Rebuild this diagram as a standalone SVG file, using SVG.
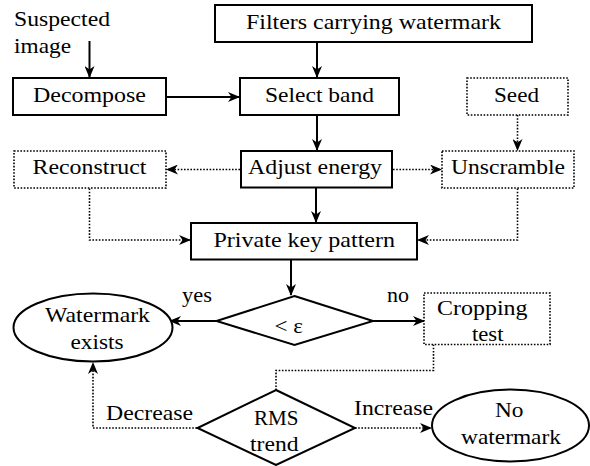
<svg xmlns="http://www.w3.org/2000/svg" width="590" height="466" viewBox="0 0 590 466">
<style>
text{font-family:"Liberation Serif","Times New Roman",serif;font-size:21px;fill:#000}
.s{fill:#fff;stroke:#000;stroke-width:2}
.d{fill:#fff;stroke:#000;stroke-width:1.6;stroke-dasharray:1.6 1.6}
.l{fill:none;stroke:#000;stroke-width:2}
.ld{fill:none;stroke:#000;stroke-width:1.6;stroke-dasharray:1.6 1.6}
</style>
<defs>
<marker id="a" viewBox="0 0 12 10" refX="11" refY="5" markerWidth="12" markerHeight="10" markerUnits="userSpaceOnUse" orient="auto">
<path d="M0,0 L12,5 L0,10 L3.5,5 z" fill="#000"/>
</marker>
</defs>
<g id="connectors">
<path class="l" d="M89.5,41 V77" marker-end="url(#a)"/>
<path class="l" d="M166,97 H239" marker-end="url(#a)"/>
<path class="l" d="M317,42 V77" marker-end="url(#a)"/>
<path class="l" d="M317,115 V150" marker-end="url(#a)"/>
<path class="ld" d="M517.5,115 V150" marker-end="url(#a)"/>
<path class="ld" d="M240,169.5 H167" marker-end="url(#a)"/>
<path class="ld" d="M393,169.5 H441" marker-end="url(#a)"/>
<path class="l" d="M316,188 V222" marker-end="url(#a)"/>
<path class="ld" d="M89.5,188.5 V240 H190" marker-end="url(#a)"/>
<path class="ld" d="M517.5,188.5 V240 H418" marker-end="url(#a)"/>
<path class="l" d="M291,259.5 V295" marker-end="url(#a)"/>
<path class="l" d="M216.5,321 H170" marker-end="url(#a)"/>
<path class="l" d="M373,321 H424" marker-end="url(#a)"/>
<path class="ld" d="M433.5,344.5 V370.5 H276 V390"/>
<path class="ld" d="M197,428 H93 V363" marker-end="url(#a)"/>
<path class="ld" d="M355,428 H431" marker-end="url(#a)"/>
</g>
<g id="suspected">
<text x="14" y="26" textLength="96" lengthAdjust="spacingAndGlyphs">Suspected</text>
<text x="14" y="53" textLength="57" lengthAdjust="spacingAndGlyphs">image</text>
</g>
<g id="decompose">
<rect class="s" x="13" y="78" width="153" height="37"/>
<text x="33" y="102" textLength="113" lengthAdjust="spacingAndGlyphs">Decompose</text>
</g>
<g id="filters">
<rect class="s" x="215" y="5" width="317" height="37"/>
<text x="246" y="28.5" textLength="255" lengthAdjust="spacingAndGlyphs">Filters carrying watermark</text>
</g>
<g id="select">
<rect class="s" x="240" y="78" width="159" height="37"/>
<text x="265" y="102" textLength="109" lengthAdjust="spacingAndGlyphs">Select band</text>
</g>
<g id="seed">
<rect class="d" x="467" y="78" width="101" height="37"/>
<text x="494" y="102" textLength="45" lengthAdjust="spacingAndGlyphs">Seed</text>
</g>
<g id="reconstruct">
<rect class="d" x="14" y="151" width="152" height="37"/>
<text x="32.5" y="174" textLength="114" lengthAdjust="spacingAndGlyphs">Reconstruct</text>
</g>
<g id="adjust">
<rect class="s" x="241" y="151" width="151" height="36.5"/>
<text x="248" y="174" textLength="134" lengthAdjust="spacingAndGlyphs">Adjust energy</text>
</g>
<g id="unscramble">
<rect class="d" x="442" y="151" width="132" height="37"/>
<text x="451" y="174" textLength="114" lengthAdjust="spacingAndGlyphs">Unscramble</text>
</g>
<g id="private">
<rect class="s" x="191" y="223" width="226" height="36.5"/>
<text x="213.5" y="247" textLength="181.5" lengthAdjust="spacingAndGlyphs">Private key pattern</text>
</g>
<g id="compare">
<polygon class="s" points="294.5,296 373,321 294.5,345 216.5,321"/>
<text x="274.5" y="333" textLength="28.5" lengthAdjust="spacingAndGlyphs">&lt; ε</text>
</g>
<g id="labels">
<text x="182" y="302" textLength="30" lengthAdjust="spacingAndGlyphs">yes</text>
<text x="387" y="302" textLength="22" lengthAdjust="spacingAndGlyphs">no</text>
<text x="106" y="419.5" textLength="87" lengthAdjust="spacingAndGlyphs">Decrease</text>
<text x="354" y="415" textLength="79" lengthAdjust="spacingAndGlyphs">Increase</text>
</g>
<g id="exists">
<ellipse class="s" cx="93" cy="327.5" rx="79.5" ry="34"/>
<text x="45" y="322" textLength="105" lengthAdjust="spacingAndGlyphs">Watermark</text>
<text x="70.5" y="348.5" textLength="53" lengthAdjust="spacingAndGlyphs">exists</text>
</g>
<g id="cropping">
<rect class="d" x="424" y="293" width="126" height="51.5"/>
<text x="437" y="315" textLength="90.5" lengthAdjust="spacingAndGlyphs">Cropping</text>
<text x="472" y="341" textLength="31.5" lengthAdjust="spacingAndGlyphs">test</text>
</g>
<g id="rms">
<polygon class="s" points="276,390 355,428 276,465 197.5,428"/>
<text x="254" y="425" textLength="44.5" lengthAdjust="spacingAndGlyphs">RMS</text>
<text x="250" y="451" textLength="48.5" lengthAdjust="spacingAndGlyphs">trend</text>
</g>
<g id="nowatermark">
<ellipse class="s" cx="510.5" cy="425.5" rx="78.5" ry="36"/>
<text x="495" y="417" textLength="28.5" lengthAdjust="spacingAndGlyphs">No</text>
<text x="461" y="444" textLength="100" lengthAdjust="spacingAndGlyphs">watermark</text>
</g>
</svg>
